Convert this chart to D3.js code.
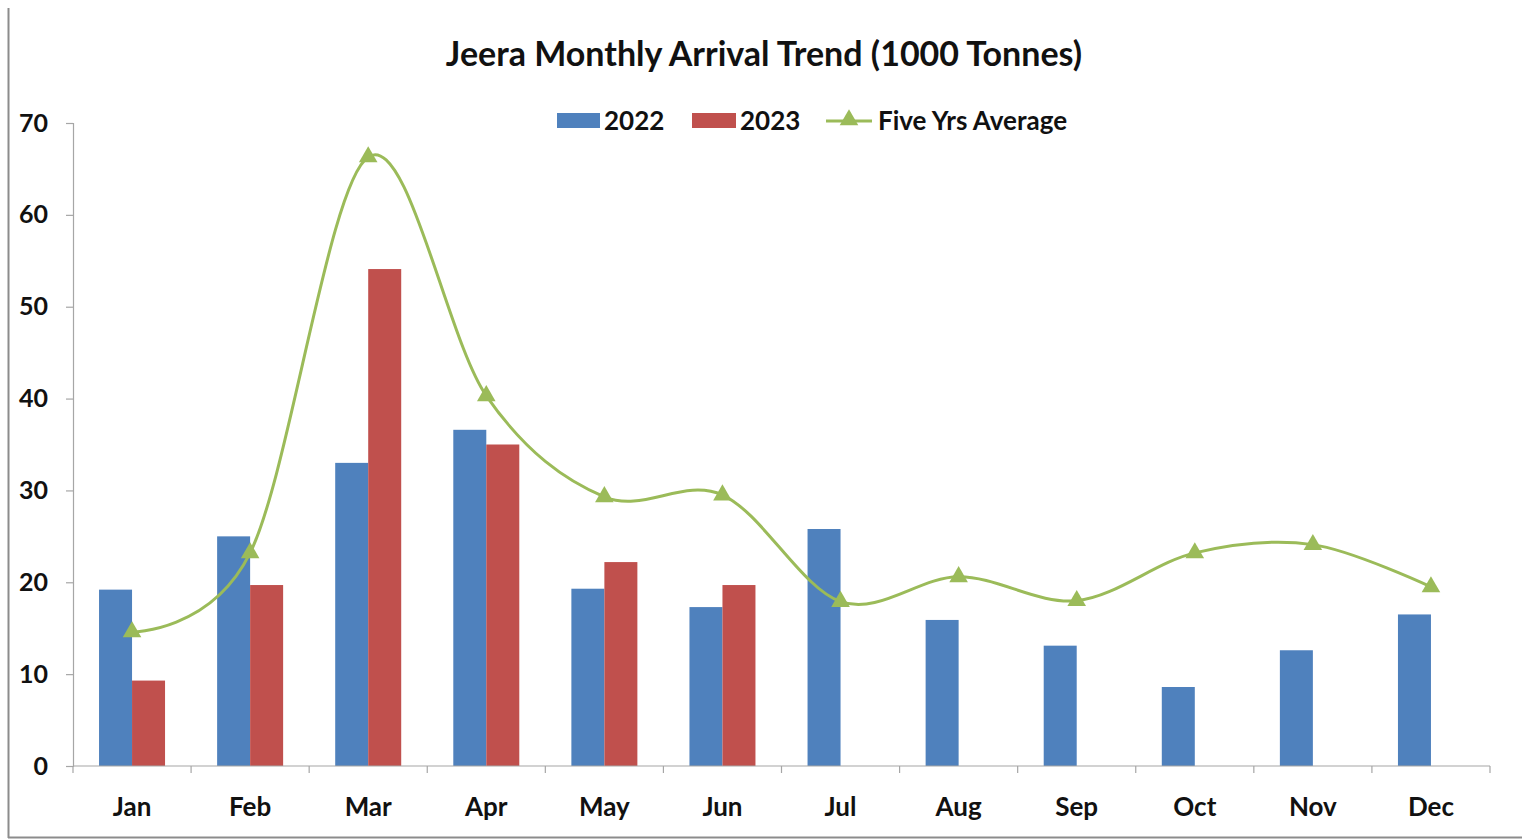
<!DOCTYPE html>
<head>
  <meta charset="utf-8">
  <script src="https://d3js.org/d3.v7.min.js"></script>
  <style>
    body { margin: 0; background: #fff; }
    text { font-family: Lato, "Open Sans", sans-serif; font-weight: bold; fill: #111; }
    .axis path, .axis line { stroke: #a6a6a6; stroke-width: 1.2; }
  </style>
</head>
<body>
  <div id="graph"></div>
  <script>
    // data (1000 tonnes)
    var months = ["Jan", "Feb", "Mar", "Apr", "May", "Jun", "Jul", "Aug", "Sep", "Oct", "Nov", "Dec"];
    var arr2022 = [19.2, 25.0, 33.0, 36.6, 19.3, 17.3, 25.8, 15.9, 13.1, 8.6, 12.6, 16.5];
    var arr2023 = [9.3, 19.7, 54.1, 35.0, 22.2, 19.7, null, null, null, null, null, null];
    var fiveYrAvg = [14.6, 23.2, 66.3, 40.3, 29.3, 29.5, 17.9, 20.6, 18.0, 23.2, 24.1, 19.5];
    var yTicks = [0, 10, 20, 30, 40, 50, 60, 70];

    var width = 1522, height = 840;
    var svg = d3.select("#graph").append("svg")
      .attr("width", width)
      .attr("height", height);

    // outer frame (left and bottom edges visible in the original)
    svg.append("line").attr("x1", 8.5).attr("x2", 8.5).attr("y1", 8).attr("y2", 838)
      .attr("stroke", "#8c8c8c").attr("stroke-width", 2);
    svg.append("line").attr("x1", 8).attr("x2", 1522).attr("y1", 837.5).attr("y2", 837.5)
      .attr("stroke", "#8c8c8c").attr("stroke-width", 2);

    var xmin = 73, xmax = 1490, ymin = 123, ymax = 766;

    var x = d3.scaleBand().domain(months).range([xmin, xmax]);
    var bw = x.bandwidth();
    var barW = 33;
    var xs = d3.scaleBand().domain(["2022", "2023"]).range([bw / 2 - barW, bw / 2 + barW]);
    var y = d3.scaleLinear().domain([0, 70]).range([ymax, ymin]);

    // title
    svg.append("text")
      .attr("x", 764).attr("y", 66)
      .attr("text-anchor", "middle")
      .style("font-size", "34px")
      .text("Jeera Monthly Arrival Trend (1000 Tonnes)");

    // bars
    var series = [
      { key: "2022", values: arr2022, color: "#4f81bd" },
      { key: "2023", values: arr2023, color: "#c0504d" }
    ];
    series.forEach(function (s) {
      svg.append("g").selectAll("rect")
        .data(months.map(function (m, i) { return { m: m, v: s.values[i] }; }).filter(function (d) { return d.v != null; }))
        .enter().append("rect")
        .attr("x", function (d) { return x(d.m) + xs(s.key); })
        .attr("y", function (d) { return y(d.v); })
        .attr("width", xs.bandwidth())
        .attr("height", function (d) { return y(0) - y(d.v); })
        .attr("fill", s.color);
    });

    // axes
    var yAxis = d3.axisLeft(y).tickValues(yTicks).tickSize(7).tickPadding(18);
    var gy = svg.append("g").attr("class", "axis")
      .attr("transform", "translate(" + xmin + ",0)")
      .call(yAxis);
    gy.selectAll("text").style("font-size", "25px");

    var gx = svg.append("g").attr("class", "axis")
      .attr("transform", "translate(0," + ymax + ")");
    gx.append("line").attr("x1", xmin).attr("x2", xmax).attr("y1", 0).attr("y2", 0);
    gx.selectAll(".sep")
      .data(d3.range(months.length + 1))
      .enter().append("line")
      .attr("x1", function (i) { return xmin + i * bw; })
      .attr("x2", function (i) { return xmin + i * bw; })
      .attr("y1", 0).attr("y2", 7);
    gx.selectAll(".lbl")
      .data(months)
      .enter().append("text")
      .attr("x", function (d) { return x(d) + bw / 2; })
      .attr("y", 50)
      .attr("text-anchor", "middle")
      .style("font-size", "26px")
      .text(function (d) { return d; });

    // five year average line
    var line = d3.line()
      .x(function (d, i) { return x(months[i]) + bw / 2; })
      .y(function (d) { return y(d); })
      .curve(d3.curveCardinal.tension(0));
    svg.append("path")
      .datum(fiveYrAvg)
      .attr("d", line)
      .attr("fill", "none")
      .attr("stroke", "#9bbb59")
      .attr("stroke-width", 3);

    var tri = d3.symbol().type(d3.symbolTriangle).size(150);
    svg.append("g").selectAll("path")
      .data(fiveYrAvg)
      .enter().append("path")
      .attr("d", tri)
      .attr("transform", function (d, i) { return "translate(" + (x(months[i]) + bw / 2) + "," + y(d) + ")"; })
      .attr("fill", "#9bbb59");

    // legend
    var lg = svg.append("g");
    lg.append("rect").attr("x", 557).attr("y", 113).attr("width", 43).attr("height", 15).attr("fill", "#4f81bd");
    lg.append("text").attr("x", 604).attr("y", 130).style("font-size", "26px").text("2022");
    lg.append("rect").attr("x", 692).attr("y", 113).attr("width", 44).attr("height", 15).attr("fill", "#c0504d");
    lg.append("text").attr("x", 740).attr("y", 130).style("font-size", "26px").text("2023");
    lg.append("line").attr("x1", 826).attr("x2", 872).attr("y1", 121).attr("y2", 121)
      .attr("stroke", "#9bbb59").attr("stroke-width", 3);
    lg.append("path").attr("d", tri).attr("transform", "translate(849,120)").attr("fill", "#9bbb59");
    lg.append("text").attr("x", 878).attr("y", 130).style("font-size", "26px").text("Five Yrs Average");
  </script>
</body>
